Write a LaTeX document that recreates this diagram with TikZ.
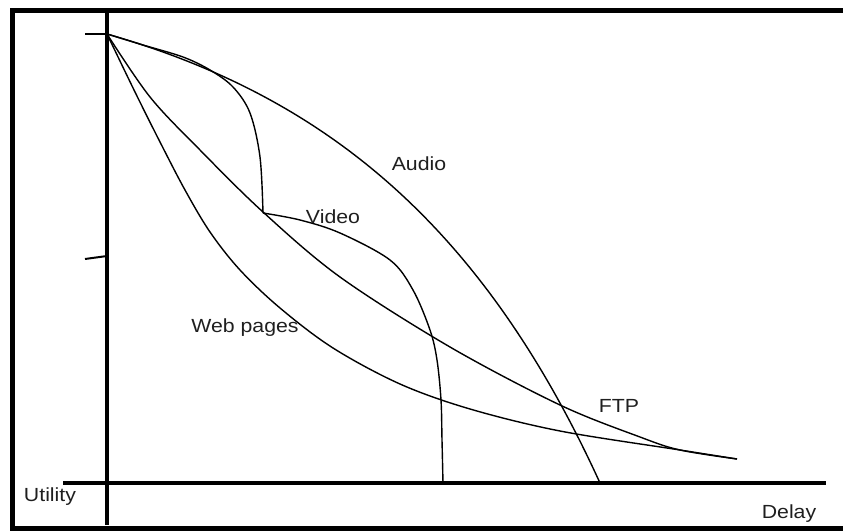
\documentclass[tikz,border=0pt]{standalone}
\usepackage{fontspec}
\newfontfamily\lblfont[FakeStretch=1.12]{Liberation Sans}
\begin{document}
\begin{tikzpicture}[x=1pt,y=-1pt,
  curve/.style={line width=1.4pt, line join=round},
  smoothcurve/.style={curve, smooth, tension=0.55},
  axisline/.style={line width=4pt},
  tickline/.style={line width=2pt},
  lbl/.style={font=\lblfont\fontsize{19}{21}\selectfont, text=black!88, inner sep=0pt}]
  \useasboundingbox (0,0) rectangle (843,532);
  \clip (0,0) rectangle (843,532);
  % outer frame
  \draw[line width=5pt] (12.5,10.3) rectangle (850,528.5);
  % axes
  \coordinate (o) at (107,34);
  \coordinate (audioend) at (600,483);
  \draw[axisline] (107,13) -- (107,525);
  \draw[axisline] (63,483) -- (826,483);
  % ticks on the utility axis
  \draw[tickline] (85,34) -- (o);
  \draw[tickline] (85,259) -- (107,256);
  % Audio
  \draw[curve] (o) .. controls (320,95) and (480,220) .. (audioend);
  % Video
  \draw[smoothcurve] plot coordinates {(107,34) (143,45) (183,57) (210,70) (233,87)
    (250,113) (260,157) (263,213)};
  \draw[smoothcurve] plot coordinates {(263,213) (300,220) (340,233) (390,260) (413,290)
    (430,330) (437,360) (441,400) (442,440) (443,483)};
  % FTP
  \draw[smoothcurve] plot coordinates {(107,34) (150,97) (200,150) (263,212) (340,277)
    (450,347) (560,405) (640,437) (680,450) (737,459)};
  % Web pages
  \draw[smoothcurve] plot coordinates {(107,34) (135,92) (160,142) (185,190) (210,232)
    (240,270) (280,308) (333,348) (400,384) (470,409) (560,431) (680,450) (737,459)};
  % labels
  \node[lbl] (audio) at (419,164) {Audio};
  \node[lbl] (video) at (333,217) {Video};
  \node[lbl] (web) at (245,328) {Web pages};
  \node[lbl] (ftp) at (619,406) {FTP};
  \node[lbl] (utility) at (50,497) {Utility};
  \node[lbl] (delay) at (789,514) {Delay};
\end{tikzpicture}
\end{document}
